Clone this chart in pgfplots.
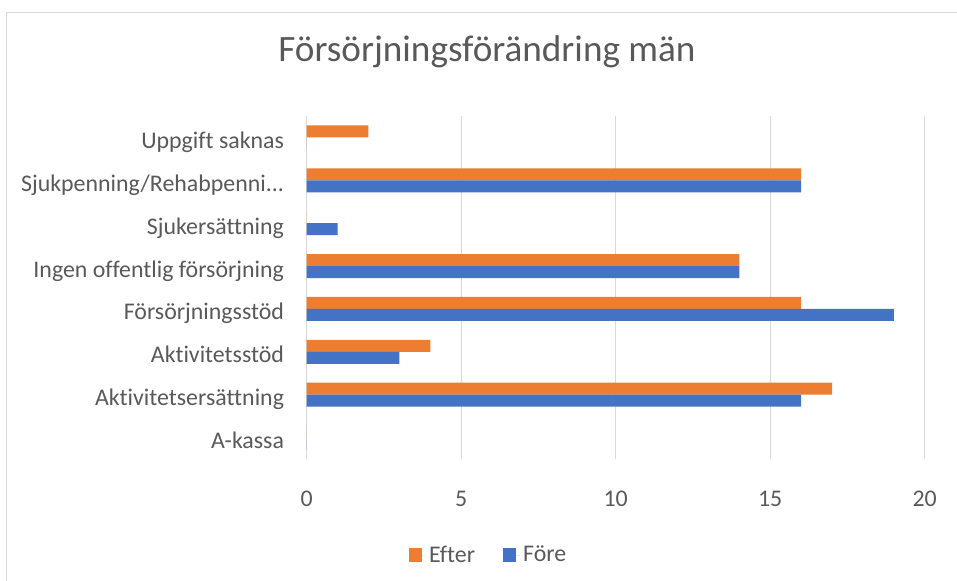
\documentclass[border=0pt]{standalone}
\usepackage{fontspec}
\setmainfont[Ligatures=NoCommon]{Carlito}
\usepackage{pgfplots}
\pgfplotsset{compat=1.18}
\definecolor{cOr}{HTML}{ED7D31}
\definecolor{cBl}{HTML}{4472C4}
\definecolor{cGr}{HTML}{D9D9D9}
\definecolor{cTx}{HTML}{595959}
\newcommand\threedots{...}
\begin{document}
\begin{tikzpicture}
\path[use as bounding box] (0pt,0pt) rectangle (717.75pt,435.75pt);
\draw[cGr, line width=1.2pt] (4.875pt,0pt) -- (4.875pt,426.375pt) -- (717.75pt,426.375pt);
\node[anchor=base, font=\fontsize{27.9}{33}\selectfont, text=cTx, inner sep=0pt] at (365.25pt,389.25pt) {Försörjningsförändring män};
\begin{axis}[
  at={(230.025pt,91.5pt)}, anchor=south west,
  scale only axis, width=463.5pt, height=257.25pt,
  xmin=0, xmax=20, ymin=-0.5, ymax=7.5,
  xtick={0,5,10,15,20},
  ytick={0,1,2,3,4,5,6,7},
  yticklabels={A-kassa,Aktivitetsersättning,Aktivitetsstöd,Försörjningsstöd,Ingen offentlig försörjning,Sjukersättning,{Sjukpenning/Rehabpenni\threedots},Uppgift saknas},
  xmajorgrids, major grid style={cGr, line width=0.9pt},
  axis line style={draw=none},
  major tick length=0pt,
  /pgf/number format/assume math mode=true,
  tick label style={font=\fontsize{17.9}{21}\selectfont, text=cTx},
  xticklabel style={yshift=-20.5pt},
  yticklabel style={anchor=base east, xshift=-13.5pt, yshift=-8.25pt},
  xbar, bar width=9pt,
  legend columns=2,
  legend style={at={(0.295,-0.28)}, anchor=center, draw=none, fill=none,
    font=\fontsize{17.9}{21}\selectfont, text=cTx,
    /tikz/every even column/.append style={column sep=19pt}},
  legend image code/.code={\fill[#1] (0pt,-4.9pt) rectangle (9.75pt,4.9pt); \path (0pt,0pt) -- (13pt,0pt);},
]
\addplot[fill=cOr, draw=none, bar shift=4.5pt] coordinates {
  (0,0) (17,1) (4,2) (16,3) (14,4) (0,5) (16,6) (2,7)};
\addlegendentry{Efter}
\addplot[fill=cBl, draw=none, bar shift=-4.5pt] coordinates {
  (0,0) (16,1) (3,2) (19,3) (14,4) (1,5) (16,6) (0,7)};
\addlegendentry{Före}
\end{axis}
\end{tikzpicture}
\end{document}
